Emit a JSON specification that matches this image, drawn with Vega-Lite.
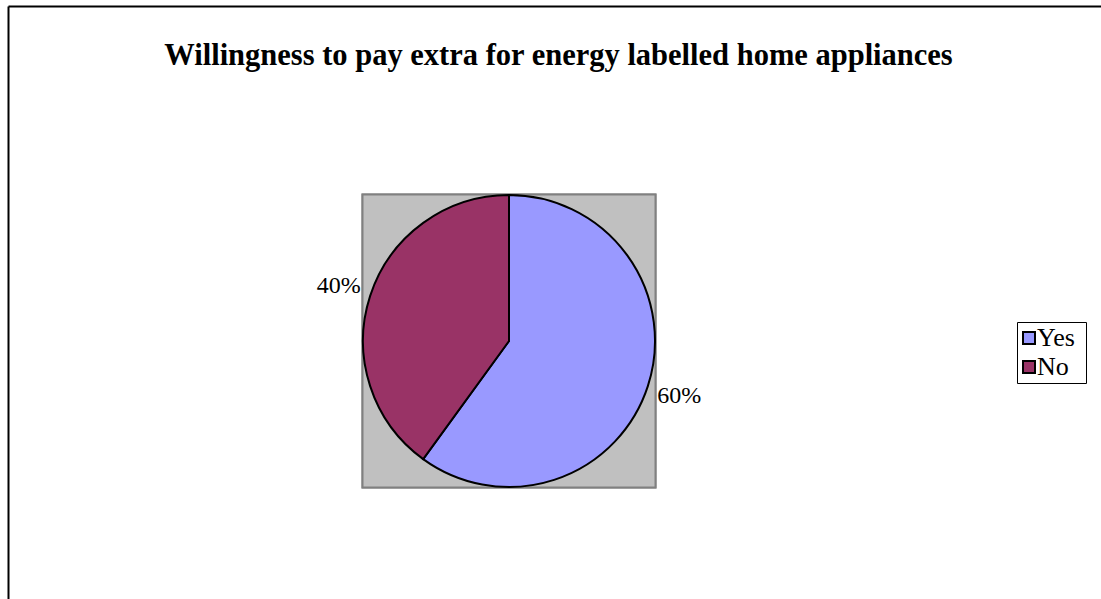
{
  "$schema": "https://vega.github.io/schema/vega-lite/v6.json",
  "autosize": {"type": "none"},
  "padding": {"left": 8, "top": 6, "right": 0, "bottom": 0},
  "width": 1093,
  "height": 593,
  "background": "white",
  "config": {"view": {"stroke": null}},
  "title": {
    "text": "Willingness to pay extra for energy labelled home appliances",
    "font": "Liberation Serif",
    "fontSize": 30.5,
    "fontWeight": "bold",
    "color": "black",
    "anchor": "middle",
    "frame": "group",
    "baseline": "alphabetic",
    "offset": -89,
    "dx": 4
  },
  "data": {"values": [
    {"answer": "Yes", "value": 60, "label": "60%"},
    {"answer": "No", "value": 40, "label": "40%"}
  ]},
  "encoding": {
    "x": {"datum": 501, "type": "quantitative",
      "scale": {"domain": [0, 1093], "nice": false, "zero": false},
      "axis": {"orient": "top", "domain": true, "domainColor": "black", "domainWidth": 2, "ticks": false, "labels": false, "grid": false, "title": null}},
    "y": {"datum": 335, "type": "quantitative",
      "scale": {"domain": [0, 593], "nice": false, "zero": false, "reverse": true},
      "axis": {"orient": "left", "domain": true, "domainColor": "black", "domainWidth": 2, "ticks": false, "labels": false, "grid": false, "title": null}}
  },
  "layer": [
    {
      "mark": {"type": "point", "shape": "square", "filled": true, "size": 85849, "fill": "#C0C0C0", "stroke": "#808080", "strokeWidth": 2, "opacity": 1}
    },
    {
      "mark": {"type": "arc", "radius": 146, "stroke": "black", "strokeWidth": 2},
      "encoding": {
        "theta": {"field": "value", "type": "quantitative", "stack": true},
        "order": {"field": "answer", "sort": "descending"},
        "color": {"field": "answer", "type": "nominal",
          "scale": {"domain": ["Yes", "No"], "range": ["#9999FF", "#993366"]},
          "legend": {
            "orient": "none", "legendX": 1009, "legendY": 316,
            "title": " ", "titleOrient": "right", "titlePadding": 8, "titleFontSize": 1,
            "strokeColor": "black", "padding": 3,
            "symbolType": "square", "symbolSize": 144, "symbolStrokeColor": "black", "symbolStrokeWidth": 2, "symbolOpacity": 1,
            "symbolOffset": -4,
            "labelFont": "Liberation Serif", "labelFontSize": 26, "labelColor": "black", "labelOffset": -5,
            "rowPadding": 3, "fillColor": "white"
          }}
      }
    },
    {
      "mark": {"type": "text", "radius": 179, "font": "Liberation Serif", "fontSize": 24, "color": "black", "align": "center", "baseline": "middle"},
      "encoding": {
        "theta": {"field": "value", "type": "quantitative", "stack": true},
        "order": {"field": "answer", "sort": "descending"},
        "text": {"field": "label", "type": "nominal"}
      }
    }
  ]
}
